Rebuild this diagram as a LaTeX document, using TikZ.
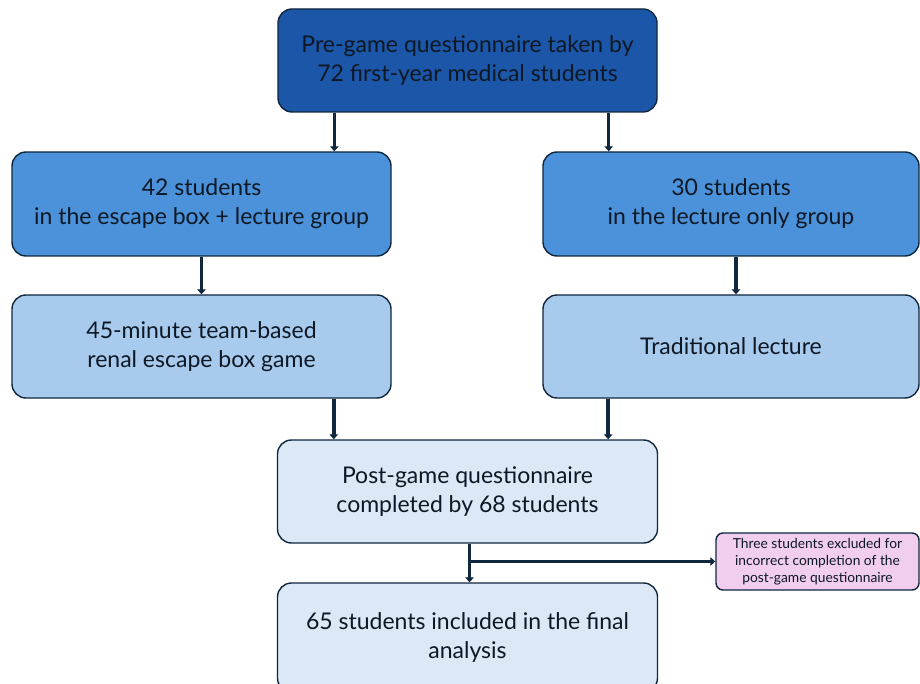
\documentclass[tikz,border=0pt]{standalone}
\usepackage{fontspec}
\setmainfont{Lato}
\usetikzlibrary{arrows.meta,calc}
\definecolor{cTop}{HTML}{1C56A8}
\definecolor{cMid}{HTML}{4B92DA}
\definecolor{cLight}{HTML}{A7CAED}
\definecolor{cPale}{HTML}{DCE8F6}
\definecolor{cPink}{HTML}{F2CEEE}
\definecolor{cLine}{HTML}{10273D}
\definecolor{cText}{HTML}{0D1824}
\begin{document}
\begin{tikzpicture}[x=1pt,y=-1pt,
  box/.style={draw=cLine,line width=1.4pt,rounded corners=14pt,align=center,
    text=cText,font=\fontsize{23}{29}\selectfont,inner sep=0pt},
  note/.style={draw=cLine,line width=1.4pt,rounded corners=7pt,align=center,
    text=cText,font=\fontsize{13.8}{17}\selectfont,inner sep=0pt,fill=cPink},
  arr/.style={draw=cLine,line width=3.5pt,-{Triangle[length=5pt,width=8.5pt]}}]
\clip (0,0) rectangle (920,684);
\fill[white] (0,0) rectangle (920,684);
\node[box,fill=cTop,minimum width=379pt,minimum height=103pt] (top) at (467.5,60.5)
  {Pre-game questionnaire taken by\\72 first-year medical students};
\node[box,fill=cMid,minimum width=379pt,minimum height=104pt] (l1) at (201.5,204)
  {42 students\\in the escape box + lecture group};
\node[box,fill=cMid,minimum width=376pt,minimum height=104pt] (r1) at (731,204)
  {30 students\\in the lecture only group};
\node[box,fill=cLight,minimum width=379pt,minimum height=103pt] (l2) at (201.5,346.5)
  {45-minute team-based\\renal escape box game};
\node[box,fill=cLight,minimum width=376pt,minimum height=103pt] (r2) at (731,346.5)
  {Traditional lecture};
\node[box,fill=cPale,minimum width=380pt,minimum height=103pt] (post) at (467.5,491.5)
  {Post-game questionnaire\\completed by 68 students};
\node[box,fill=cPale,minimum width=380pt,minimum height=109pt] (final) at (467.5,637.5)
  {65 students included in the final\\analysis};
\node[note,minimum width=203pt,minimum height=57pt] (pink) at (817.5,561.5)
  {Three students excluded for\\incorrect completion of the\\post-game questionnaire};
\draw[arr] ([xshift=57pt]top.south west) -- ([xshift=57pt]top.south west |- l1.north);
\draw[arr] ([xshift=-49pt]top.south east) -- ([xshift=-49pt]top.south east |- r1.north);
\draw[arr] (l1.south) -- (l2.north);
\draw[arr] ([xshift=5pt]r1.south) -- ([xshift=5pt]r2.north);
\draw[arr] ([xshift=57pt]post.north west |- l2.south) -- ([xshift=57pt]post.north west);
\draw[arr] ([xshift=-50pt]post.north east |- r2.south) -- ([xshift=-50pt]post.north east);
\draw[arr] ([xshift=2pt]post.south) -- ([xshift=2pt]post.south |- final.north);
\draw[arr] ([xshift=2pt]post.south |- pink.west) -- (pink.west);
\end{tikzpicture}
\end{document}
